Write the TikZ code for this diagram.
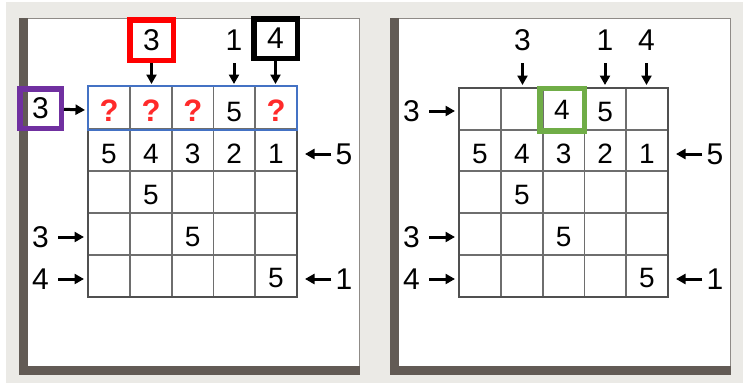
\documentclass[tikz,border=0pt]{standalone}
\usepackage{fontspec}
\setmainfont{Liberation Sans}
\usepackage{xcolor}
\usetikzlibrary{arrows.meta}
\definecolor{bggray}{HTML}{EBEAE6}
\definecolor{paneldark}{HTML}{625B55}
\definecolor{panelline}{HTML}{8F8B87}
\definecolor{gridgray}{HTML}{6E6E6E}
\definecolor{gridedge}{HTML}{505050}
\definecolor{boxred}{HTML}{FF0000}
\definecolor{boxpurple}{HTML}{7030A0}
\definecolor{boxgreen}{HTML}{70AD47}
\definecolor{boxblue}{HTML}{4472C4}
\definecolor{qred}{HTML}{FF2A2A}

\tikzset{
  clue/.style={font=\fontsize{30}{30}\selectfont, inner sep=0pt, outer sep=2.75pt,
               minimum width=43.5pt, minimum height=40.5pt},
  sideclue/.style={clue, minimum width=20pt},
  cell/.style={font=\fontsize{28}{28}\selectfont, inner sep=0pt},
  qmark/.style={cell, font=\fontsize{31}{31}\selectfont\bfseries, text=qred},
  hilite/.style={draw=#1, line width=5.5pt},
  clue arrow/.style={-{Triangle[length=9.5pt,width=10pt]}, line width=3pt},
}

\begin{document}
\begin{tikzpicture}[x=1pt,y=-1pt]
  \useasboundingbox (0,0) rectangle (755,383);
  \fill[white] (0,0) rectangle (755,383);
  \fill[bggray] (6,2) rectangle (743,383);

  %% ── left panel: the top row still open ──
  \begin{scope}
    \fill[white] (19,18) rectangle (360,375);
    \fill[paneldark] (19,18) rectangle (28,375);
    \fill[paneldark] (19,366) rectangle (360,375);
    \draw[panelline,line width=1.2pt] (28,18.6) -- (359.4,18.6) -- (359.4,366);

    \draw[gridgray,line width=1.6pt] (130,86) -- (130,297) (172,86) -- (172,297)
      (213.5,86) -- (213.5,297) (255,86) -- (255,297)
      (88,129) -- (297,129) (88,171) -- (297,171) (88,213) -- (297,213) (88,255) -- (297,255);
    \draw[gridedge,line width=2pt] (88,86) rectangle (297,297);
    \draw[boxblue,line width=2pt] (88,86) rectangle (297,130);

    \node[clue,hilite=boxred,minimum height=40.5pt] (Ltop2) at (151.5,40) {3};
    \node[clue] (Ltop4) at (234,40) {1};
    \node[clue,hilite=black,minimum height=39.5pt] (Ltop5) at (275.5,38.5) {4};
    \coordinate (Ltop2e) at (151.5,84);
    \coordinate (Ltop4e) at (234,84);
    \coordinate (Ltop5e) at (275.5,84);
    \draw[clue arrow] (Ltop2) -- (Ltop2e);
    \draw[clue arrow] (Ltop4) -- (Ltop4e);
    \draw[clue arrow] (Ltop5) -- (Ltop5e);

    \node[clue,hilite=boxpurple,minimum width=41.5pt,minimum height=39.5pt] (Lleft1) at (40.5,108.5) {3};
    \node[clue,minimum width=30pt] (Lleft4) at (40.5,237) {3};
    \node[clue,minimum width=30pt] (Lleft5) at (40.5,279) {4};
    \coordinate (Lleft1e) at (85,110);
    \coordinate (Lleft4e) at (84,237);
    \coordinate (Lleft5e) at (84,279);
    \draw[clue arrow] (Lleft1) -- (Lleft1e);
    \draw[clue arrow] (Lleft4) -- (Lleft4e);
    \draw[clue arrow] (Lleft5) -- (Lleft5e);

    \node[sideclue] (Lright2) at (344,154) {5};
    \node[sideclue] (Lright5) at (344,279) {1};
    \coordinate (Lright2e) at (305,154);
    \coordinate (Lright5e) at (305,279);
    \draw[clue arrow] (Lright2) -- (Lright2e);
    \draw[clue arrow] (Lright5) -- (Lright5e);

    \node[qmark] (Lc11) at (109,111) {?};
    \node[qmark] (Lc12) at (151,111) {?};
    \node[qmark] (Lc13) at (192.75,111) {?};
    \node[cell]  (Lc14) at (234.25,112) {5};
    \node[qmark] (Lc15) at (276,111) {?};
    \node[cell] (Lc21) at (109,154) {5};
    \node[cell] (Lc22) at (151,154) {4};
    \node[cell] (Lc23) at (192.75,154) {3};
    \node[cell] (Lc24) at (234.25,154) {2};
    \node[cell] (Lc25) at (276,154) {1};
    \node[cell] (Lc32) at (151,195) {5};
    \node[cell] (Lc43) at (192.75,237) {5};
    \node[cell] (Lc55) at (276,278) {5};
  \end{scope}

  %% ── right panel: the 4 that the clues force ──
  \begin{scope}[xshift=371pt]
    \fill[white] (19,18) rectangle (360,375);
    \fill[paneldark] (19,18) rectangle (28,375);
    \fill[paneldark] (19,366) rectangle (360,375);
    \draw[panelline,line width=1.2pt] (28,18.6) -- (359.4,18.6) -- (359.4,366);

    \draw[gridgray,line width=1.6pt] (130,88) -- (130,297) (172,88) -- (172,297)
      (213.5,88) -- (213.5,297) (255,88) -- (255,297)
      (88,130) -- (297,130) (88,171) -- (297,171) (88,213) -- (297,213) (88,255) -- (297,255);
    \draw[gridedge,line width=2pt] (88,88) rectangle (297,297);

    \node[clue] (Rtop2) at (151.5,40) {3};
    \node[clue] (Rtop4) at (234,40) {1};
    \node[clue] (Rtop5) at (275.5,40) {4};
    \coordinate (Rtop2e) at (151.5,85);
    \coordinate (Rtop4e) at (234,85);
    \coordinate (Rtop5e) at (275.5,85);
    \draw[clue arrow] (Rtop2) -- (Rtop2e);
    \draw[clue arrow] (Rtop4) -- (Rtop4e);
    \draw[clue arrow] (Rtop5) -- (Rtop5e);

    \node[clue,minimum width=30pt] (Rleft1) at (40.5,111) {3};
    \node[clue,minimum width=30pt] (Rleft4) at (40.5,237) {3};
    \node[clue,minimum width=30pt] (Rleft5) at (40.5,279) {4};
    \coordinate (Rleft1e) at (84,111);
    \coordinate (Rleft4e) at (84,237);
    \coordinate (Rleft5e) at (84,279);
    \draw[clue arrow] (Rleft1) -- (Rleft1e);
    \draw[clue arrow] (Rleft4) -- (Rleft4e);
    \draw[clue arrow] (Rleft5) -- (Rleft5e);

    \node[sideclue] (Rright2) at (344,154) {5};
    \node[sideclue] (Rright5) at (344,279) {1};
    \coordinate (Rright2e) at (305,154);
    \coordinate (Rright5e) at (305,279);
    \draw[clue arrow] (Rright2) -- (Rright2e);
    \draw[clue arrow] (Rright5) -- (Rright5e);

    \node[cell,hilite=boxgreen,minimum width=44.5pt,minimum height=42.5pt] (Rc13) at (191,109.5) {4};
    \node[cell] (Rc14) at (234.25,112) {5};
    \node[cell] (Rc21) at (109,154) {5};
    \node[cell] (Rc22) at (151,154) {4};
    \node[cell] (Rc23) at (192.75,154) {3};
    \node[cell] (Rc24) at (234.25,154) {2};
    \node[cell] (Rc25) at (276,154) {1};
    \node[cell] (Rc32) at (151,195) {5};
    \node[cell] (Rc43) at (192.75,237) {5};
    \node[cell] (Rc55) at (276,278) {5};
  \end{scope}
\end{tikzpicture}
\end{document}
